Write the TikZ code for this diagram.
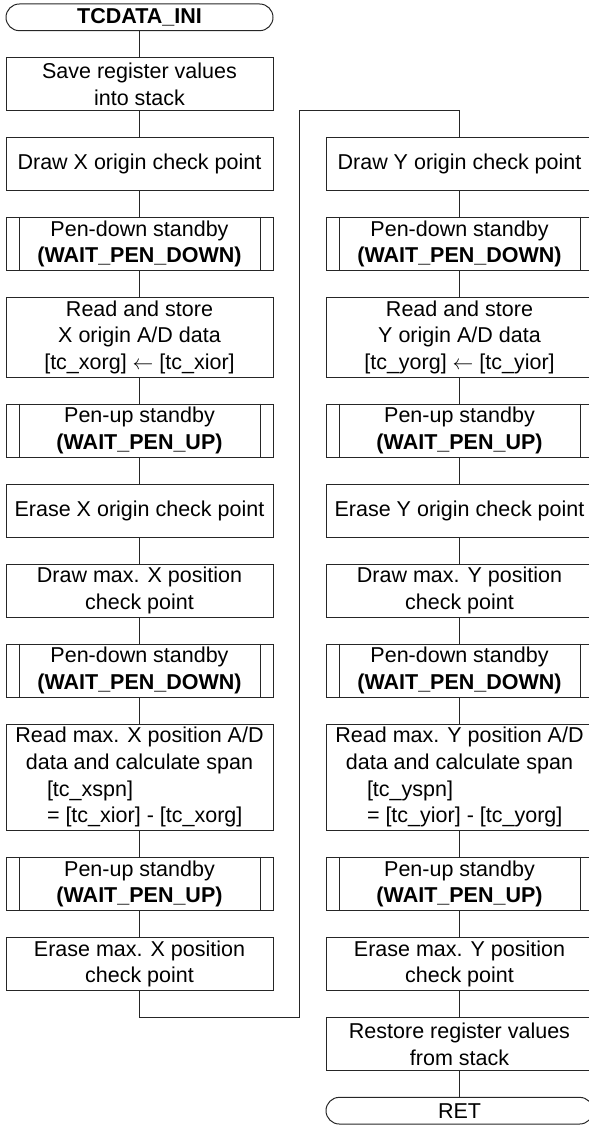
\documentclass[tikz,border=0pt]{standalone}
\usepackage{fontspec}
\setmainfont{Liberation Sans}
\usetikzlibrary{calc}
\tikzset{
  x=1pt, y=-1pt,
  conn/.style={line width=1pt, draw=black!85},
  box/.style={draw=black!85, line width=1pt, rectangle, minimum width=267pt,
    inner sep=0pt, align=center, font=\fontsize{21.5}{26.67}\selectfont},
  two/.style={box, minimum height=53.33pt},
  three/.style={box, minimum height=80pt},
  four/.style={box, minimum height=106.67pt},
  sub/.style={box, minimum height=53.33pt},
  term/.style={box, rounded corners=13.33pt, minimum height=26.67pt}
}
\newcommand{\lft}[1]{\makebox[267pt][l]{\hspace{41pt}#1}}
\begin{document}
\begin{tikzpicture}
\useasboundingbox (0,0) rectangle (589,1125);
% left column
\node[term]  (tc)  at (139.5,17.33) {\textbf{TCDATA\_INI}};
\node[two]   (sv)  at (139.5,84) {Save register values\\into stack};
\node[two]   (dx)  at (139.5,164) {Draw X origin check point};
\node[sub]   (pdx) at (139.5,244) {Pen-down standby\\\textbf{(WAIT\_PEN\_DOWN)}};
\node[three] (rx)  at (139.5,337.33) {Read and store\\X origin A/D data\\{[tc\_xorg]} $\leftarrow$ {[tc\_xior]}};
\node[sub]   (pux) at (139.5,430.67) {Pen-up standby\\\textbf{(WAIT\_PEN\_UP)}};
\node[two]   (ex)  at (139.5,510.67) {Erase X origin check point};
\node[two]   (dmx) at (139.5,590.67) {Draw max. X position\\check point};
\node[sub]   (pdmx) at (139.5,670.67) {Pen-down standby\\\textbf{(WAIT\_PEN\_DOWN)}};
\node[four]  (rmx) at (139.5,777.33) {Read max. X position A/D\\data and calculate span\\\lft{[tc\_xspn]}\\\lft{= [tc\_xior] - [tc\_xorg]}};
\node[sub]   (pumx) at (139.5,884) {Pen-up standby\\\textbf{(WAIT\_PEN\_UP)}};
\node[two]   (emx) at (139.5,964) {Erase max. X position\\check point};
% right column
\node[two]   (dy)  at (459.5,164) {Draw Y origin check point};
\node[sub]   (pdy) at (459.5,244) {Pen-down standby\\\textbf{(WAIT\_PEN\_DOWN)}};
\node[three] (ry)  at (459.5,337.33) {Read and store\\Y origin A/D data\\{[tc\_yorg]} $\leftarrow$ {[tc\_yior]}};
\node[sub]   (puy) at (459.5,430.67) {Pen-up standby\\\textbf{(WAIT\_PEN\_UP)}};
\node[two]   (ey)  at (459.5,510.67) {Erase Y origin check point};
\node[two]   (dmy) at (459.5,590.67) {Draw max. Y position\\check point};
\node[sub]   (pdmy) at (459.5,670.67) {Pen-down standby\\\textbf{(WAIT\_PEN\_DOWN)}};
\node[four]  (rmy) at (459.5,777.33) {Read max. Y position A/D\\data and calculate span\\\lft{[tc\_yspn]}\\\lft{= [tc\_yior] - [tc\_yorg]}};
\node[sub]   (pumy) at (459.5,884) {Pen-up standby\\\textbf{(WAIT\_PEN\_UP)}};
\node[two]   (emy) at (459.5,964) {Erase max. Y position\\check point};
\node[two]   (rs)  at (459.5,1044) {Restore register values\\from stack};
\node[term]  (ret) at (459.5,1110.67) {RET};
% subroutine side bars
\foreach \n in {pdx,pux,pdmx,pumx,pdy,puy,pdmy,pumy}{
  \draw[conn] ($(\n.north west)+(13.5,0)$) -- ($(\n.south west)+(13.5,0)$)
              ($(\n.north east)+(-13.5,0)$) -- ($(\n.south east)+(-13.5,0)$);
}
% connectors
\draw[conn] (tc) -- (sv);
\draw[conn] (sv) -- (dx);
\draw[conn] (dx) -- (pdx);
\draw[conn] (pdx) -- (rx);
\draw[conn] (rx) -- (pux);
\draw[conn] (pux) -- (ex);
\draw[conn] (ex) -- (dmx);
\draw[conn] (dmx) -- (pdmx);
\draw[conn] (pdmx) -- (rmx);
\draw[conn] (rmx) -- (pumx);
\draw[conn] (pumx) -- (emx);
\coordinate (lbr) at (299.3,1017.33);
\coordinate (ltr) at (299.3,110.67);
\draw[conn] (emx.south) |- (lbr) -- (ltr) -| (dy.north);
\draw[conn] (dy) -- (pdy);
\draw[conn] (pdy) -- (ry);
\draw[conn] (ry) -- (puy);
\draw[conn] (puy) -- (ey);
\draw[conn] (ey) -- (dmy);
\draw[conn] (dmy) -- (pdmy);
\draw[conn] (pdmy) -- (rmy);
\draw[conn] (rmy) -- (pumy);
\draw[conn] (pumy) -- (emy);
\draw[conn] (emy) -- (rs);
\draw[conn] (rs) -- (ret);
\end{tikzpicture}
\end{document}
